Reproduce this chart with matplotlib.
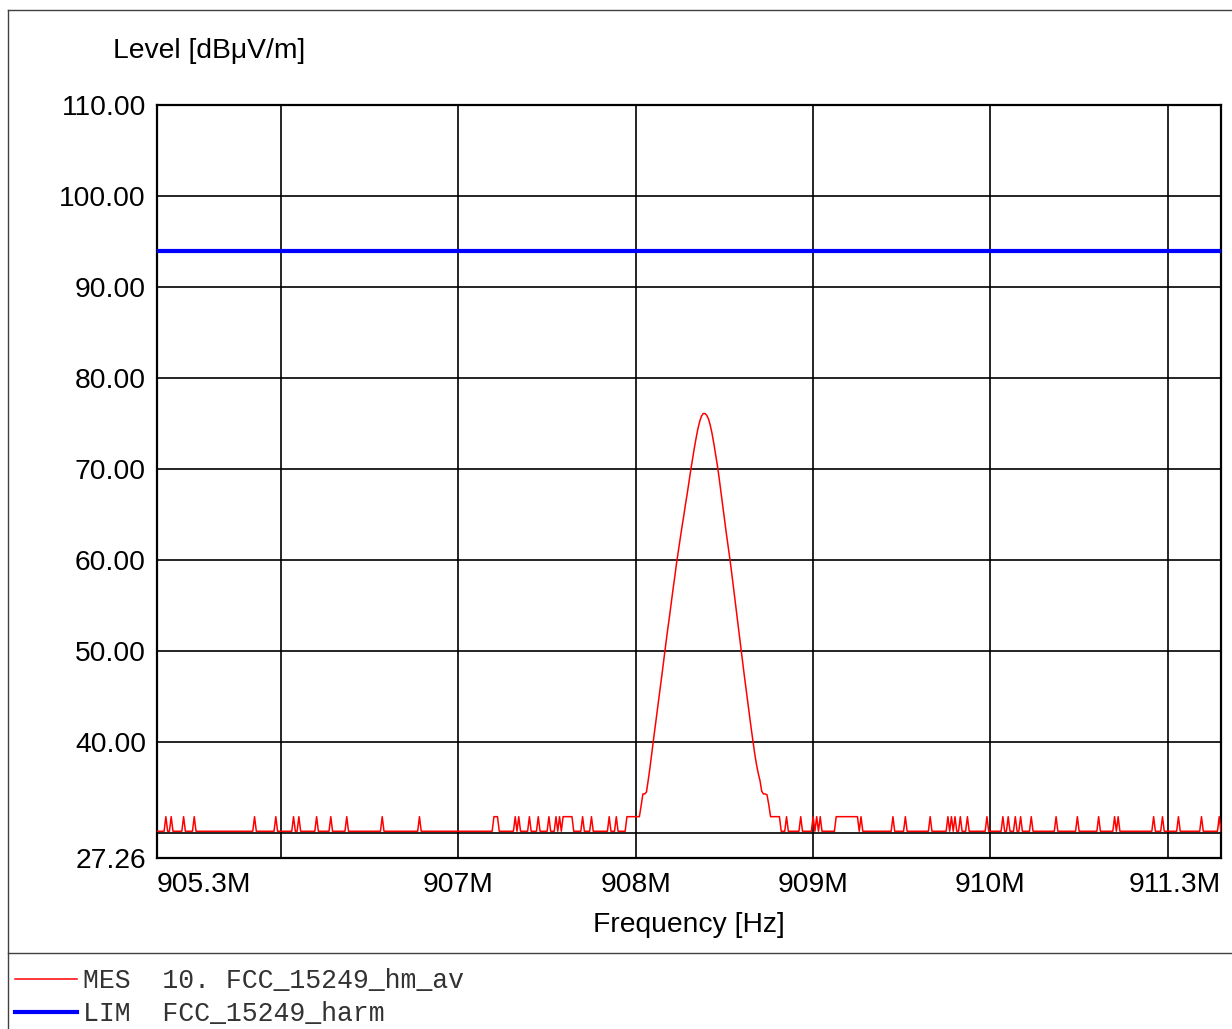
import numpy as np
import matplotlib
matplotlib.use("Agg")
import matplotlib.pyplot as plt
from matplotlib.lines import Line2D

# ---------------- data ----------------
f_start, f_stop, f_step = 905.30, 911.30, 0.01   # MHz sweep
noise_floor = 30.2
noise_high = 31.8
limit_level = 94.0

spike_freqs = [905.35, 905.38, 905.45, 905.51, 905.85, 905.97, 906.07, 906.10,
               906.20, 906.28, 906.37, 906.57, 906.78, 907.32, 907.34, 907.40,
               907.45, 907.51, 907.55, 907.57, 907.70, 907.75, 907.85, 907.89,
               908.85, 908.93, 909.00, 909.02, 909.04, 909.27, 909.45, 909.52,
               909.66, 909.76, 909.78, 909.80, 909.83, 909.87, 909.98, 910.07,
               910.10, 910.14, 910.17, 910.23, 910.37, 910.49, 910.61, 910.70,
               910.72, 910.92, 910.97, 911.06, 911.19, 911.29]
plateaus = [(907.20, 907.22), (907.59, 907.64), (907.95, 908.02),
            (908.76, 908.81), (909.13, 909.25)]

peak_start = 908.03
peak_levels = [33.0, 34.3, 34.3, 34.5, 35.8, 37.2, 38.8,
               40.3, 41.8, 43.3, 44.8, 46.3, 47.8, 49.4, 50.9, 52.4, 53.8,
               55.3, 56.8, 58.2, 59.7, 61.0, 62.3, 63.6, 64.8, 66.1, 67.3,
               68.6, 69.9, 71.1, 72.3, 73.4, 74.4, 75.2, 75.8, 76.1, 76.1,
               75.9, 75.5, 74.8, 73.9, 72.8, 71.6, 70.4, 69.0, 67.5, 66.0,
               64.5, 63.0, 61.6, 60.2, 58.7, 57.1, 55.5, 53.9, 52.3, 50.7,
               49.1, 47.6, 46.1, 44.6, 43.1, 41.6, 40.2, 38.8, 37.6, 36.6,
               35.8, 34.6, 34.3, 34.3, 34.2, 33.1]

x_ticks = [905.3, 906, 907, 908, 909, 910, 911, 911.3]
x_labels = ["905.3M", "", "907M", "908M", "909M", "910M", "", "911.3M"]
y_ticks = [27.26, 30, 40, 50, 60, 70, 80, 90, 100, 110]
y_labels = ["27.26", "", "40.00", "50.00", "60.00", "70.00", "80.00",
            "90.00", "100.00", "110.00"]

legend_labels = ["MES  10. FCC_15249_hm_av", "LIM  FCC_15249_harm"]

# ---------------- build trace ----------------
n = int(round((f_stop - f_start) / f_step)) + 1
freqs = np.round(f_start + np.arange(n) * f_step, 2)


def idx(f):
    return int(round((f - f_start) / f_step))


level = np.full(n, noise_floor)
for f in spike_freqs:
    level[idx(f)] = noise_high
for a, b in plateaus:
    level[idx(a):idx(b) + 1] = noise_high
i0 = idx(peak_start)
level[i0:i0 + len(peak_levels)] = peak_levels

# ---------------- figure ----------------
W, H = 1232, 1029
fig = plt.figure(figsize=(W / 100, H / 100), dpi=100)
plt.rcParams["font.family"] = ["Liberation Sans", "DejaVu Sans"]

ax = fig.add_axes([157 / W, 1 - 858 / H, 1064 / W, 753 / H])
mes, = ax.plot(freqs, level, color="#ff0000", lw=1.1, zorder=3)
lim = ax.axhline(limit_level, color="#0000ff", lw=3.0, zorder=4)

ax.set_xlim(f_start, f_stop)
ax.set_ylim(27.26, 110)
ax.set_xticks(x_ticks)
ax.set_xticklabels(x_labels)
ax.set_yticks(y_ticks)
ax.set_yticklabels(y_labels)
ax.tick_params(length=0, labelsize=20.3, colors="black")
ax.tick_params(axis="y", pad=8)
ax.tick_params(axis="x", pad=10)
xl = ax.get_xticklabels()
xl[0].set_horizontalalignment("left")
xl[-1].set_horizontalalignment("right")
ax.grid(True, color="black", lw=1.2)
ax.set_axisbelow(True)
for s in ax.spines.values():
    s.set_linewidth(1.6)
    s.set_color("black")

ax.set_xlabel("Frequency [Hz]", fontsize=20.3, labelpad=10)
fig.text(113 / W, 1 - 51 / H, "Level [dBμV/m]", fontsize=20.3,
         ha="left", va="center")

# figure frame lines
border = "#404040"
fig.add_artist(Line2D([8 / W, 8 / W], [0, 1 - 10 / H], color=border, lw=1.0))
fig.add_artist(Line2D([8 / W, 1], [1 - 10 / H, 1 - 10 / H], color=border, lw=1.0))
fig.add_artist(Line2D([8 / W, 1], [1 - 953 / H, 1 - 953 / H], color=border, lw=1.0))

leg = fig.legend([mes, lim], legend_labels, loc="upper left",
                 bbox_to_anchor=(15 / W, 1 - 968 / H),
                 prop={"family": ["Liberation Mono", "DejaVu Sans Mono"], "size": 19.1},
                 frameon=False, handlelength=2.33, handletextpad=0.25,
                 labelspacing=0.28, borderpad=0, borderaxespad=0)
for t in leg.get_texts():
    t.set_color("#333333")

fig.savefig("out.png", dpi=100)
